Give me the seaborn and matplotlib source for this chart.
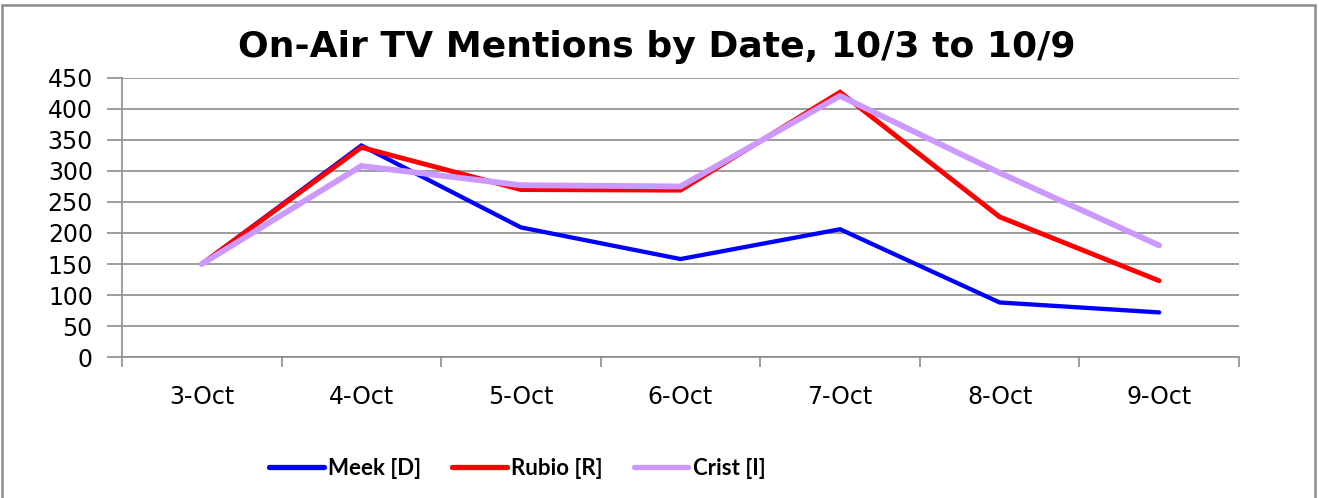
import pandas as pd
import matplotlib.pyplot as plt
import seaborn as sns
from matplotlib.ticker import FixedLocator
from matplotlib.patches import Rectangle

dates = ['3-Oct', '4-Oct', '5-Oct', '6-Oct', '7-Oct', '8-Oct', '9-Oct']
meek = [150, 341, 209, 158, 206, 88, 72]
rubio = [150, 338, 270, 269, 427, 226, 123]
crist = [150, 308, 277, 275, 421, 297, 180]
names = ['Meek [D]', 'Rubio [R]', 'Crist [I]']
colors = ['#0000FF', '#FF0000', '#CC99FF']
widths = [3.1, 3.5, 4.2]

# long format for seaborn
df = pd.DataFrame({'Date': dates * 3,
                   'Mentions': meek + rubio + crist,
                   'Candidate': [n for n in names for _ in dates]})

sns.set_style('white')
plt.rcParams['font.family'] = ['DejaVu Sans']
plt.rcParams['text.color'] = 'black'
plt.rcParams['xtick.color'] = 'black'
plt.rcParams['ytick.color'] = 'black'

fig = plt.figure(figsize=(13.19, 4.98), dpi=100)
# chart frame (open at the bottom edge of the image)
fig.patches.append(Rectangle((1.5 / 1319, -0.05), 1313.5 / 1319, 1.05 - 5 / 498,
                             transform=fig.transFigure, fill=False,
                             edgecolor='#8c8c8c', linewidth=1.8))
ax = fig.add_axes([0.0925, 0.283, 0.8468, 0.5606])

for name, col, lw in zip(names, colors, widths):
    sns.lineplot(data=df[df['Candidate'] == name], x='Date', y='Mentions',
                 color=col, linewidth=lw, label=name, ax=ax, sort=False,
                 solid_capstyle='round', solid_joinstyle='miter')

ax.set_xlim(-0.5, 6.5)
ax.set_ylim(0, 450)
ax.set_yticks(range(0, 451, 50))
ax.yaxis.grid(True, color='#8c8c8c', linewidth=1.2)
ax.set_axisbelow(True)
ax.set_xticks(range(len(dates)))
ax.set_xticklabels(dates)
ax.xaxis.set_minor_locator(FixedLocator([i - 0.5 for i in range(len(dates) + 1)]))
ax.tick_params(axis='x', which='major', bottom=True, length=0, pad=20, labelsize=17)
ax.tick_params(axis='x', which='minor', bottom=True, length=7, color='#8c8c8c', width=1.2)
ax.tick_params(axis='y', left=True, length=11, color='#8c8c8c', width=1.2,
               labelsize=17, pad=10)
for s in ['top', 'right']:
    ax.spines[s].set_visible(False)
for s in ['left', 'bottom']:
    ax.spines[s].set_color('#8c8c8c')
    ax.spines[s].set_linewidth(1.2)
ax.set_xlabel('')
ax.set_ylabel('')

ax.set_title('On-Air TV Mentions by Date, 10/3 to 10/9', fontsize=26,
             fontweight='bold', pad=15, x=0.479)

leg = ax.legend(loc='center', bbox_to_anchor=(0.354, -0.40), ncol=3,
                frameon=False, handlelength=2.45, columnspacing=1.4,
                handletextpad=0.2,
                prop={'family': 'Lato', 'weight': 'bold', 'size': 16})
for line in leg.get_lines():
    line.set_linewidth(3.8)

fig.savefig('out.png', dpi=100)
